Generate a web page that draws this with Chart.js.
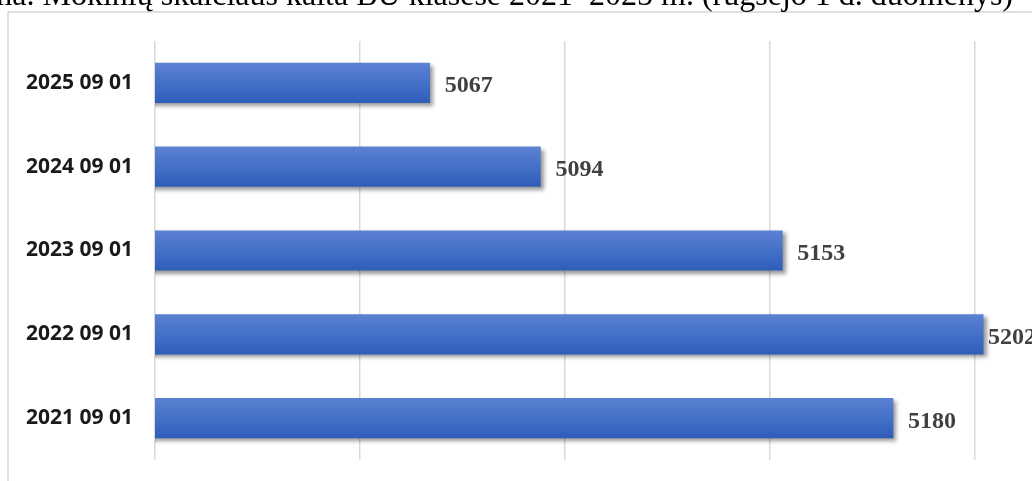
<!DOCTYPE html>
<html><head><meta charset="utf-8">
<script src="https://cdn.jsdelivr.net/npm/chart.js@4"></script>
<style>
html,body{margin:0;padding:0;background:#fff;overflow:hidden}
#wrap{position:relative;width:1032px;height:481px;overflow:hidden;background:#fff}
canvas{position:absolute;left:0;top:0}
</style></head>
<body><div id="wrap"><canvas id="c" width="1200" height="481"></canvas></div>
<script>
const titleText = '1 diagrama. Mokinių skaičiaus kaita BU klasėse 2021–2025 m. (rugsėjo 1 d. duomenys)';
const categories = ['2025 09 01', '2024 09 01', '2023 09 01', '2022 09 01', '2021 09 01'];
const students = [5067, 5094, 5153, 5202, 5180];
const axisMin = 5000;
const axisMax = 5250;
const axisStep = 50;

const framePlugin = {
  id: 'frame',
  beforeDraw(chart) {
    const ctx = chart.ctx;
    ctx.save();
    ctx.fillStyle = '#ffffff';
    ctx.fillRect(0, 0, chart.width, chart.height);
    ctx.strokeStyle = '#d6d6d6';
    ctx.lineWidth = 1.5;
    ctx.strokeRect(8, 12, 3000, 3000);
    ctx.fillStyle = '#000000';
    ctx.font = '32px "Liberation Serif", "Times New Roman", serif';
    ctx.textAlign = 'right';
    ctx.textBaseline = 'alphabetic';
    ctx.fillText(titleText, 1013, 4.5);
    ctx.restore();
  }
};

const barPlugin = {
  id: 'barfx',
  beforeDatasetsDraw(chart) {
    const ctx = chart.ctx;
    ctx.save();
    ctx.shadowColor = 'rgba(0,0,0,0.40)';
    ctx.shadowBlur = 4;
    ctx.shadowOffsetX = 3;
    ctx.shadowOffsetY = 3;
  },
  afterDatasetsDraw(chart) {
    const ctx = chart.ctx;
    ctx.restore();
    ctx.save();
    const meta = chart.getDatasetMeta(0);
    ctx.fillStyle = '#404040';
    ctx.font = 'bold 24px "Liberation Serif", "Times New Roman", serif';
    ctx.textAlign = 'left';
    ctx.textBaseline = 'alphabetic';
    const labelRightLimit = 1036;
    meta.data.forEach((el, i) => {
      const txt = String(students[i]);
      const w = ctx.measureText(txt).width;
      const x = Math.min(el.x + 15, labelRightLimit - w);
      ctx.fillText(txt, x, el.y + 9.5);
    });
    ctx.restore();
  }
};

new Chart(document.getElementById('c'), {
  type: 'bar',
  data: {
    labels: categories,
    datasets: [{
      data: students,
      barThickness: 39.5,
      borderWidth: 0,
      backgroundColor: (c) => {
        const chart = c.chart;
        const ys = chart.scales && chart.scales.y;
        if (!ys || c.dataIndex === undefined) return '#4472c4';
        const yc = ys.getPixelForValue(c.dataIndex);
        if (!isFinite(yc)) return '#4472c4';
        const g = chart.ctx.createLinearGradient(0, yc - 20, 0, yc + 20);
        g.addColorStop(0, '#5c82d2');
        g.addColorStop(0.5, '#4470c8');
        g.addColorStop(1, '#2e5db8');
        return g;
      }
    }]
  },
  options: {
    indexAxis: 'y',
    responsive: false,
    animation: false,
    devicePixelRatio: 1,
    layout: { autoPadding: false, padding: { top: 41, bottom: 21, left: 0, right: 20 } },
    plugins: { legend: { display: false }, tooltip: { enabled: false }, title: { display: false } },
    scales: {
      x: {
        type: 'linear',
        min: axisMin,
        max: axisMax,
        ticks: { display: false, stepSize: axisStep },
        grid: { color: '#d9d9d9', lineWidth: 1.5, drawTicks: false },
        border: { display: false },
        afterFit(s) { s.height = 0; s.paddingLeft = 0; s.paddingRight = 0; }
      },
      y: {
        type: 'category',
        ticks: {
          color: '#1a1a1a',
          font: { family: '"Open Sans", sans-serif', weight: 'bold', size: 21 },
          padding: 22
        },
        grid: { display: false, drawTicks: false },
        border: { display: false },
        afterFit(s) { s.width = 155; s.paddingTop = 0; s.paddingBottom = 0; }
      }
    }
  },
  plugins: [framePlugin, barPlugin]
});
</script>
</body></html>
